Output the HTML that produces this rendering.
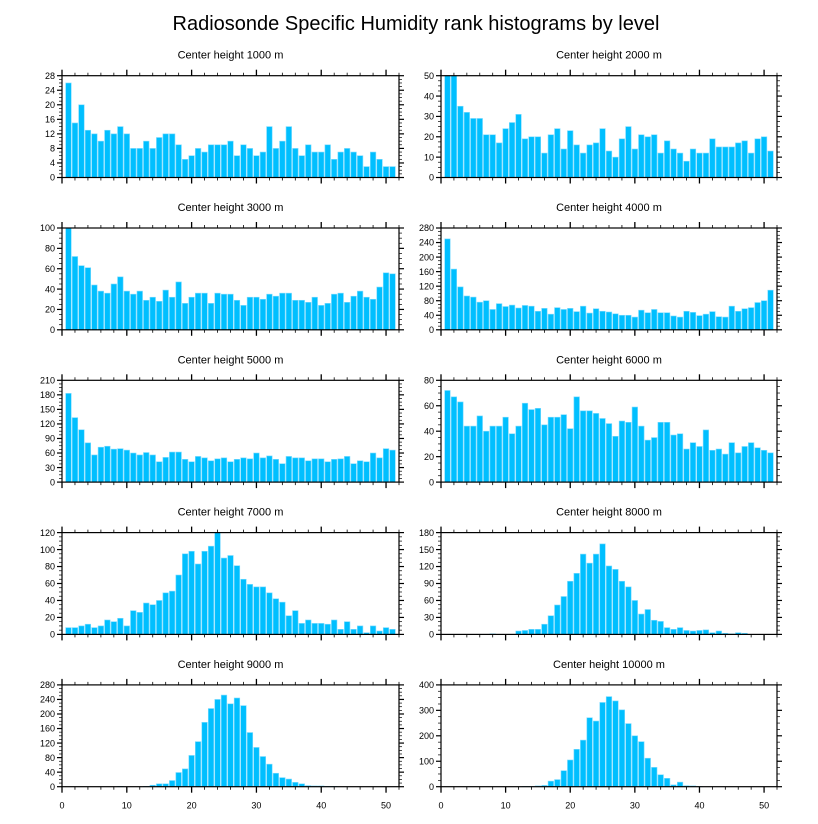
<!DOCTYPE html>
<html><head><meta charset="utf-8">
<style>
html,body{margin:0;padding:0;background:#fff;}
svg{display:block;font-family:"Liberation Sans",sans-serif;}
</style></head>
<body>
<svg id="chart" width="818" height="824" viewBox="0 0 818 824" xmlns="http://www.w3.org/2000/svg">
<text x="416" y="30" font-size="20" text-anchor="middle" fill="#000">Radiosonde Specific Humidity rank histograms by level</text>
</svg>
<script>
const titles = ["Center height 1000 m","Center height 2000 m","Center height 3000 m","Center height 4000 m","Center height 5000 m","Center height 6000 m","Center height 7000 m","Center height 8000 m","Center height 9000 m","Center height 10000 m"];
const yMax = [28,50,100,280,210,80,120,180,280,400];
const yStep = [4,10,20,40,30,20,20,30,40,100];
const xTicks = [0,10,20,30,40,50];
const h1000 = [26,15,20,13,12,10,13,12,14,12,8,8,10,8,11,12,12,9,5,6,8,7,9,9,9,10,6,9,8,6,7,14,8,10,14,8,6,9,7,7,9,5,7,8,7,6,3,7,5,3,3];
const h2000 = [55,52,35,32,29,29,21,21,17,24,27,31,19,20,20,12,21,24,14,23,16,12,16,17,24,13,10,19,25,14,21,20,21,12,18,14,12,8,14,12,12,19,15,15,15,17,18,12,19,20,13];
const h3000 = [105,72,63,61,44,38,36,45,52,38,35,38,29,32,28,39,32,47,26,32,36,36,26,36,35,35,29,24,32,32,30,35,33,36,36,29,29,27,32,24,26,35,36,27,33,38,32,30,42,56,55];
const h4000 = [250,167,118,93,90,76,80,56,72,64,68,60,67,65,51,59,43,61,56,59,50,65,46,58,51,49,44,40,40,35,54,47,56,47,47,38,35,51,48,39,43,50,36,35,65,51,58,61,75,80,109];
const h5000 = [183,133,108,81,56,72,74,68,69,66,60,56,61,56,42,51,62,62,47,42,53,50,44,48,50,42,47,50,48,60,50,54,47,38,53,50,50,44,48,48,42,47,48,53,38,44,42,60,50,69,66];
const h6000 = [72,67,63,44,44,52,40,44,44,51,38,44,62,57,58,45,51,51,53,42,67,56,56,54,50,46,36,48,47,59,44,33,35,47,47,37,38,26,31,28,41,25,26,22,31,23,28,31,27,25,23];
const h7000 = [8,8,10,12,8,10,17,15,19,10,28,26,37,35,40,49,51,70,95,98,83,98,104,122,90,93,81,65,59,56,56,49,42,38,22,28,13,17,13,13,12,17,6,15,6,10,2,10,4,8,6];
const h8000 = [0,0,0,0,0,0,0,1,0,0,0,6,7,9,9,18,33,52,67,94,108,142,126,142,160,121,115,94,84,60,36,44,25,23,12,9,12,7,6,7,8,3,6,2,1,3,2,0,0,0,0];
const h9000 = [0,0,0,0,0,0,0,0,1,0,0,0,1,4,8,8,17,39,49,86,124,177,215,240,252,228,244,223,149,108,83,62,37,25,21,12,8,3,2,2,1,1,0,0,0,0,0,0,0,0,0];
const h10000 = [0,0,0,0,0,0,0,0,0,0,0,0,1,1,3,5,22,28,63,105,147,183,271,258,331,354,337,302,248,200,177,112,76,47,33,7,18,4,3,1,0,0,0,0,0,0,0,0,0,0,0];
const series = [h1000,h2000,h3000,h4000,h5000,h6000,h7000,h8000,h9000,h10000];

const svg = document.getElementById('chart');
const NS = 'http://www.w3.org/2000/svg';
function mk(tag, attrs, parent){
  const e = document.createElementNS(NS, tag);
  for (const k in attrs) e.setAttribute(k, attrs[k]);
  (parent||svg).appendChild(e);
  return e;
}
const XMIN = 0, XMAX = 52;
for (let p = 0; p < 10; p++) {
  const col = p % 2, row = Math.floor(p / 2);
  const L = col === 0 ? 62 : 441, R = col === 0 ? 399 : 777;
  const T = 75.7 + row * 152.3, B = T + 101.8;
  const xs = v => L + (v - XMIN) / (XMAX - XMIN) * (R - L);
  const ys = v => B - Math.min(v, yMax[p]) / yMax[p] * (B - T);
  const g = mk('g', {});
  
  
  const t = mk('text', {x: (L + R) / 2, y: T - 17, 'font-size': 11, 'text-anchor': 'middle', fill: '#000'}, g);
  
  
  t.textContent = titles[p];
  const data = series[p];
  const bw = (xs(1) - xs(0)) * 0.86;
  for (let i = 0; i < data.length; i++) {
    const v = data[i];
    if (v <= 0) continue;
    const cx = xs(i + 1);
    const r = mk('rect', {x: cx - bw / 2, y: ys(v), width: bw, height: B - ys(v), fill: '#00BFFF', stroke: '#7fdcff', 'stroke-width': 0.6}, g);
    
    
  }
  // x ticks
  for (let v = 0; v <= 52; v += 2) {
    const major = v % 10 === 0;
    const len = major ? 6 : 3;
    mk('line', {x1: xs(v), x2: xs(v), y1: B, y2: B + len, stroke: '#000', 'stroke-width': major ? 1.3 : 0.8}, g);
    mk('line', {x1: xs(v), x2: xs(v), y1: T, y2: T - len, stroke: '#000', 'stroke-width': major ? 1.3 : 0.8}, g);
  }
  if (row === 4) {
    for (const v of xTicks) {
      const lt = mk('text', {x: xs(v), y: B + 22, 'font-size': 9, 'text-anchor': 'middle', fill: '#000'}, g);
      
      
      lt.textContent = v;
    }
  }
  // y ticks
  const minor = yStep[p] / 4;
  for (let k = 0; k * minor <= yMax[p] + 1e-9; k++) {
    const v = k * minor;
    const major = k % 4 === 0;
    const len = major ? 5 : 3;
    const yy = ys(v);
    mk('line', {x1: L, x2: L - len, y1: yy, y2: yy, stroke: '#000', 'stroke-width': major ? 1.2 : 0.7}, g);
    mk('line', {x1: R, x2: R + len, y1: yy, y2: yy, stroke: '#000', 'stroke-width': major ? 1.2 : 0.7}, g);
    if (major) {
      const lt = mk('text', {x: L - 7, y: yy + 3.2, 'font-size': 9, 'text-anchor': 'end', fill: '#000'}, g);
      
      
      lt.textContent = v;
    }
  }
  const fr = mk('rect', {x: L, y: T, width: R - L, height: B - T, fill: 'none', stroke: '#000', 'stroke-width': 1.2}, g);
  
  
}
</script>
</body></html>
